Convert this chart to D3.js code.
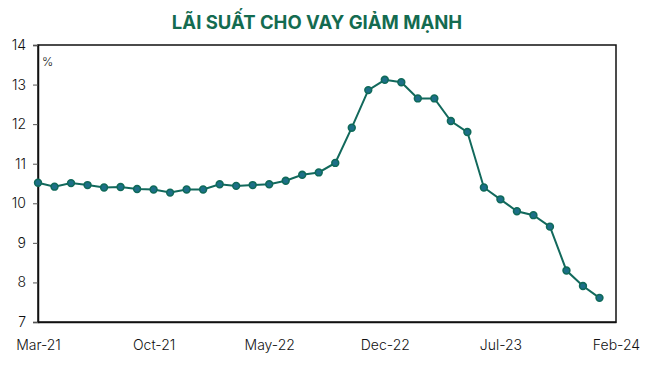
<!DOCTYPE html>
<html>
<head>
<meta charset="utf-8">
<script src="https://cdn.jsdelivr.net/npm/d3@7"></script>
<style>
  html, body { margin: 0; padding: 0; background: #fff; }
  svg { display: block; font-family: Inter, "Noto Sans", sans-serif; }
</style>
</head>
<body>
<svg id="chart" width="651" height="369"></svg>
<script>
const months = ["Mar-21","Apr-21","May-21","Jun-21","Jul-21","Aug-21","Sep-21","Oct-21","Nov-21","Dec-21",
  "Jan-22","Feb-22","Mar-22","Apr-22","May-22","Jun-22","Jul-22","Aug-22","Sep-22","Oct-22","Nov-22","Dec-22",
  "Jan-23","Feb-23","Mar-23","Apr-23","May-23","Jun-23","Jul-23","Aug-23","Sep-23","Oct-23","Nov-23","Dec-23",
  "Jan-24","Feb-24"];
const rates = [10.52,10.42,10.51,10.46,10.40,10.41,10.36,10.35,10.27,10.35,
  10.35,10.48,10.44,10.46,10.48,10.57,10.72,10.78,11.02,11.91,12.86,13.12,
  13.06,12.65,12.65,12.08,11.80,10.40,10.10,9.80,9.70,9.41,8.30,7.91,7.61];
const xTickLabels = ["Mar-21","Oct-21","May-22","Dec-22","Jul-23","Feb-24"];
const yTicks = [7,8,9,10,11,12,13,14];
const title = "LÃI SUẤT CHO VAY GIẢM MẠNH";
const unit = "%";

const svg = d3.select("#chart");
const m = {left: 38, right: 616, top: 45, bottom: 322};

const x = d3.scalePoint().domain(months).range([m.left, m.right]);
const y = d3.scaleLinear().domain([7, 14]).range([m.bottom, m.top]);

svg.append("text")
  .attr("x", 317).attr("y", 29)
  .attr("text-anchor", "middle")
  .attr("font-size", 18.5).attr("font-weight", 700)
  .attr("fill", "#146b50")
  .text(title);

// frame
svg.append("rect")
  .attr("x", m.left).attr("y", m.top)
  .attr("width", m.right - m.left).attr("height", m.bottom - m.top)
  .attr("fill", "none").attr("stroke", "#111").attr("stroke-width", 1.5);

// y axis
const yAxis = svg.append("g")
  .attr("transform", `translate(${m.left},0)`)
  .call(d3.axisLeft(y).tickValues(yTicks).tickSize(5).tickPadding(7).tickFormat(d3.format("d")));
yAxis.select(".domain").attr("stroke", "#111").attr("stroke-width", 1.5);
yAxis.selectAll(".tick line").attr("stroke", "#555");
yAxis.selectAll("text").attr("font-size", 14).attr("font-weight", 300).attr("fill", "#111").attr("font-family", "Inter, sans-serif");

// x axis
const xAxis = svg.append("g")
  .attr("transform", `translate(0,${m.bottom})`)
  .call(d3.axisBottom(x).tickValues(xTickLabels).tickSize(0).tickPadding(18));
xAxis.select(".domain").attr("stroke", "#111").attr("stroke-width", 1.5);
xAxis.selectAll("text").attr("font-size", 14).attr("font-weight", 300).attr("fill", "#111").attr("font-family", "Inter, sans-serif");

svg.append("text")
  .attr("x", 42).attr("y", 66)
  .attr("font-size", 12).attr("font-weight", 300).attr("fill", "#111")
  .text(unit);

const data = rates.map((v, i) => ({m: months[i], v}));

svg.append("path")
  .datum(data)
  .attr("fill", "none")
  .attr("stroke", "#12695c")
  .attr("stroke-width", 2)
  .attr("d", d3.line().x(d => x(d.m)).y(d => y(d.v)));

svg.selectAll("circle.pt")
  .data(data)
  .join("circle")
  .attr("class", "pt")
  .attr("cx", d => x(d.m)).attr("cy", d => y(d.v))
  .attr("r", 3.4)
  .attr("fill", "#1d6f88")
  .attr("stroke", "#0f6a5a")
  .attr("stroke-width", 1.6);
</script>
</body>
</html>
